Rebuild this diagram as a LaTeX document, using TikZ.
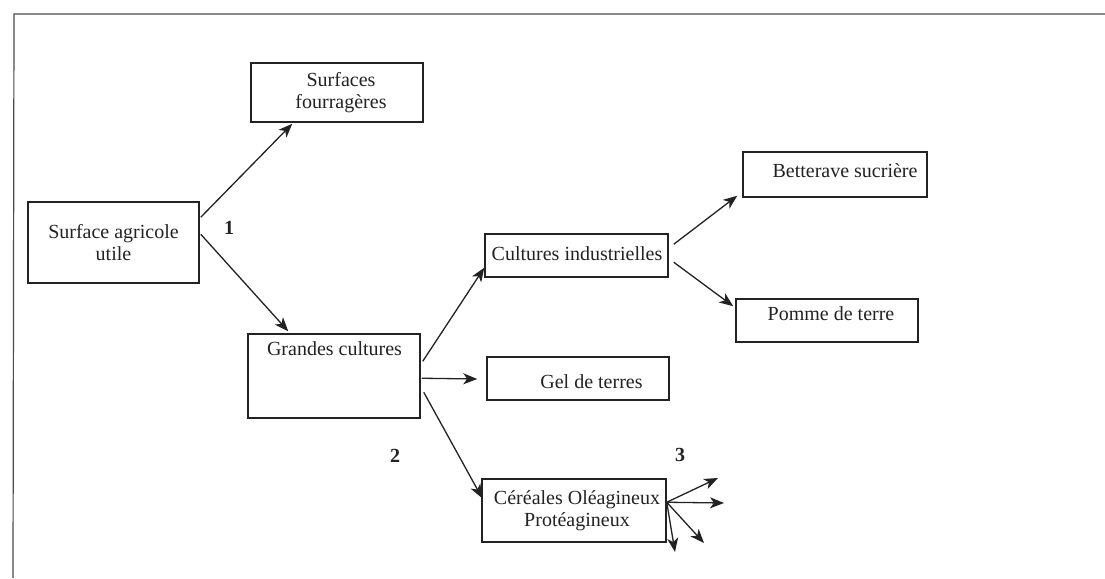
\documentclass[tikz,border=0pt]{standalone}
\usepackage{fontspec}
\setmainfont{Liberation Serif}
\usetikzlibrary{arrows.meta,calc}
\definecolor{ink}{HTML}{222222}
\definecolor{frame}{HTML}{4a4a4a}
\begin{document}
\begin{tikzpicture}[x=1pt,y=-1pt,
  box/.style={draw=ink, line width=1.5pt, inner sep=0pt, text=ink, align=center,
              font=\fontsize{20}{22.5}\selectfont},
  txt/.style={text=ink, inner sep=0pt, anchor=base, font=\fontsize{20}{22.5}\selectfont},
  lab/.style={text=ink, inner sep=0pt, font=\fontsize{20}{22.5}\selectfont\bfseries},
  conn/.style={draw=ink, line width=1.3pt, -{Stealth[length=14pt,width=11pt,inset=4pt]}}]
\useasboundingbox (0,0) rectangle (1105,578);
% frame
\draw[frame, line width=1.2pt] (1105,14) -- (14,14) -- (13,578);

% boxes
\node[box, minimum width=171pt, minimum height=81pt] (sau) at (113.5,242.5) {Surface agricole\\utile};
\node[box, minimum width=172pt, minimum height=59pt] (sf) at (337,92.5) {\hspace*{8pt}Surfaces\\\hspace*{8pt}fourragères};
\node[box, minimum width=172pt, minimum height=84pt] (gc) at (334,376) {};
\node[box, minimum width=183pt, minimum height=43pt] (ci) at (576.5,255.5) {};
\node[box, minimum width=184pt, minimum height=45pt] (bs) at (835,174.5) {};
\node[box, minimum width=182pt, minimum height=43pt] (pt) at (827,320.5) {};
\node[box, minimum width=182pt, minimum height=43pt] (gel) at (578,378.5) {};
\node[box, minimum width=184pt, minimum height=63pt] (cer) at (574,510.5) {\hspace*{6pt}Céréales Oléagineux\\\hspace*{6pt}Protéagineux};

% single-line texts
\node[txt] (gc-t) at (334.5,355) {Grandes cultures};
\node[txt] (ci-t) at (577,260) {Cultures industrielles};
\node[txt] (bs-t) at (845,177) {Betterave sucrière};
\node[txt] (pt-t) at (831,320) {Pomme de terre};
\node[txt] (gel-t) at (591.5,388) {Gel de terres};

% labels
\node[lab] (l1) at (229,228) {1};
\node[lab] (l2) at (395,456) {2};
\node[lab] (l3) at (680,455) {3};

% connectors
\draw[conn] ($(sau.north east)+(1,16)$) -- ($(sf.south west)+(42,1)$);
\draw[conn] ($(sau.north east)+(1,33)$) -- ($(gc.north west)+(41,-2)$);
\draw[conn] ($(gc.north east)+(2,28)$) -- ($(ci.south west)+(0,-10)$);
\draw[conn] ($(gc.north east)+(1,45)$) -- ($(gel.west)+(-9,0.5)$);
\draw[conn] ($(gc.north east)+(3,59)$) -- ($(cer.north west)+(1,20)$);
\draw[conn] ($(ci.north east)+(5,11)$) -- ($(bs.south west)+(-5,-2)$);
\draw[conn] ($(ci.north east)+(5,29)$) -- ($(pt.north west)+(-2,8)$);

% fan from Céréales
\coordinate (fo) at ($(cer.north east)+(0,24)$);
\coordinate (f1) at (718,478);
\coordinate (f2) at (724,503);
\coordinate (f3) at (704,543);
\coordinate (f4) at (675,552);
\draw[conn] (fo) -- (f1);
\draw[conn] (fo) -- (f2);
\draw[conn] (fo) -- (f3);
\draw[conn] (fo) -- (f4);
\end{tikzpicture}
\end{document}
